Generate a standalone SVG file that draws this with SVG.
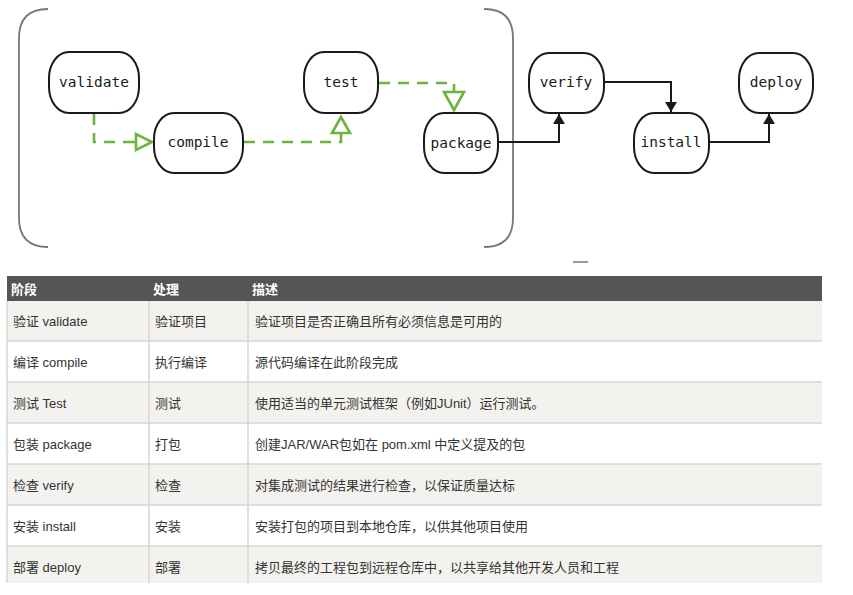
<svg xmlns="http://www.w3.org/2000/svg" width="853" height="595" viewBox="0 0 853 595">
<defs>
<style>
.node rect{fill:#fff;stroke:#1a1a1a;stroke-width:2}
.node text{font-family:"DejaVu Sans Mono","Liberation Mono",monospace;font-size:14.5px;fill:#1a1a1a;text-anchor:middle}
.dash{fill:none;stroke:#6cb33f;stroke-width:2.6;stroke-dasharray:11 8}
.open{fill:#fff;stroke:#6cb33f;stroke-width:2.6}
.stem{stroke:#6cb33f;stroke-width:2.6}
.solid{fill:none;stroke:#1a1a1a;stroke-width:2}
.bracket{fill:none;stroke:#777;stroke-width:1.8}
.th{font-family:"Liberation Sans","Noto Sans CJK SC",sans-serif;font-size:13px;font-weight:bold;fill:#fff}
.td{font-family:"Liberation Sans","Noto Sans CJK SC",sans-serif;font-size:13px;fill:#333}
.grid{stroke:#d6d6d6;stroke-width:1.5}
</style>
<marker id="arr" markerWidth="10" markerHeight="12" refX="10" refY="6" orient="auto" markerUnits="userSpaceOnUse">
<path d="M0,0 L10,6 L0,12 Z" fill="#1a1a1a"/>
</marker>
</defs>
<rect width="853" height="595" fill="#fff"/>
<g id="bracket">
<path class="bracket" d="M48,9 Q19,9 19,38 L19,218 Q19,247 48,247"/>
<path class="bracket" d="M484,9 Q513,9 513,38 L513,218 Q513,247 484,247"/>
<line x1="573" y1="262" x2="588" y2="262" stroke="#777" stroke-width="1.5"/>
</g>
<g id="connectors">
<path class="dash" d="M94,114 V142 H134"/>
<line class="stem" x1="134" y1="142" x2="136" y2="142"/>
<polygon class="open" points="136,134 136,150 152,142"/>
<path class="dash" d="M244,142 H341 V134"/>
<polygon class="open" points="332,133 350,133 341,117"/>
<path class="dash" d="M379,83 H454 V92"/>
<polygon class="open" points="444,92 464,92 454,110"/>
<path class="solid" d="M498,142 H559 V114" marker-end="url(#arr)"/>
<path class="solid" d="M604,82 H671 V112" marker-end="url(#arr)"/>
<path class="solid" d="M709,142 H769 V114" marker-end="url(#arr)"/>
</g>
<g id="validate" class="node"><rect x="49" y="52" width="90" height="61" rx="20" ry="26"/><text x="94" y="87">validate</text></g>
<g id="compile" class="node"><rect x="154" y="113" width="89" height="60" rx="20" ry="26"/><text x="198" y="147">compile</text></g>
<g id="test" class="node"><rect x="304" y="52" width="74" height="61" rx="20" ry="26"/><text x="341" y="87">test</text></g>
<g id="package" class="node"><rect x="424" y="113" width="74" height="60" rx="20" ry="26"/><text x="461" y="148">package</text></g>
<g id="verify" class="node"><rect x="529" y="53" width="75" height="60" rx="20" ry="26"/><text x="566" y="87">verify</text></g>
<g id="install" class="node"><rect x="634" y="113" width="75" height="60" rx="20" ry="26"/><text x="671" y="147">install</text></g>
<g id="deploy" class="node"><rect x="739" y="53" width="74" height="60" rx="20" ry="26"/><text x="776" y="87">deploy</text></g>
<g id="table">
<rect x="7" y="276" width="815" height="25" fill="#555"/>
<rect x="7" y="301" width="815" height="40" fill="#f3f2ef"/>
<rect x="7" y="341" width="815" height="41" fill="#fff"/>
<rect x="7" y="382" width="815" height="41" fill="#f3f2ef"/>
<rect x="7" y="423" width="815" height="41" fill="#fff"/>
<rect x="7" y="464" width="815" height="41" fill="#f3f2ef"/>
<rect x="7" y="505" width="815" height="41" fill="#fff"/>
<rect x="7" y="546" width="815" height="37" fill="#f3f2ef"/>
<g class="grid">
<line x1="7" y1="341" x2="822" y2="341"/>
<line x1="7" y1="382" x2="822" y2="382"/>
<line x1="7" y1="423" x2="822" y2="423"/>
<line x1="7" y1="464" x2="822" y2="464"/>
<line x1="7" y1="505" x2="822" y2="505"/>
<line x1="7" y1="546" x2="822" y2="546"/>
<line x1="7" y1="301" x2="7" y2="583"/>
<line x1="149" y1="301" x2="149" y2="583"/>
<line x1="248" y1="301" x2="248" y2="583"/>
</g>
<text class="th" x="11" y="294">阶段</text>
<text class="th" x="153" y="294">处理</text>
<text class="th" x="252" y="294">描述</text>
<text class="td" x="13" y="326">验证 validate</text><text class="td" x="155" y="326">验证项目</text><text class="td" x="255" y="326">验证项目是否正确且所有必须信息是可用的</text>
<text class="td" x="13" y="367">编译 compile</text><text class="td" x="155" y="367">执行编译</text><text class="td" x="255" y="367">源代码编译在此阶段完成</text>
<text class="td" x="13" y="408">测试 Test</text><text class="td" x="155" y="408">测试</text><text class="td" x="255" y="408">使用适当的单元测试框架（例如JUnit）运行测试。</text>
<text class="td" x="13" y="449">包装 package</text><text class="td" x="155" y="449">打包</text><text class="td" x="255" y="449">创建JAR/WAR包如在 pom.xml 中定义提及的包</text>
<text class="td" x="13" y="490">检查 verify</text><text class="td" x="155" y="490">检查</text><text class="td" x="255" y="490">对集成测试的结果进行检查，以保证质量达标</text>
<text class="td" x="13" y="531">安装 install</text><text class="td" x="155" y="531">安装</text><text class="td" x="255" y="531">安装打包的项目到本地仓库，以供其他项目使用</text>
<text class="td" x="13" y="572">部署 deploy</text><text class="td" x="155" y="572">部署</text><text class="td" x="255" y="572">拷贝最终的工程包到远程仓库中，以共享给其他开发人员和工程</text>
</g>
</svg>
